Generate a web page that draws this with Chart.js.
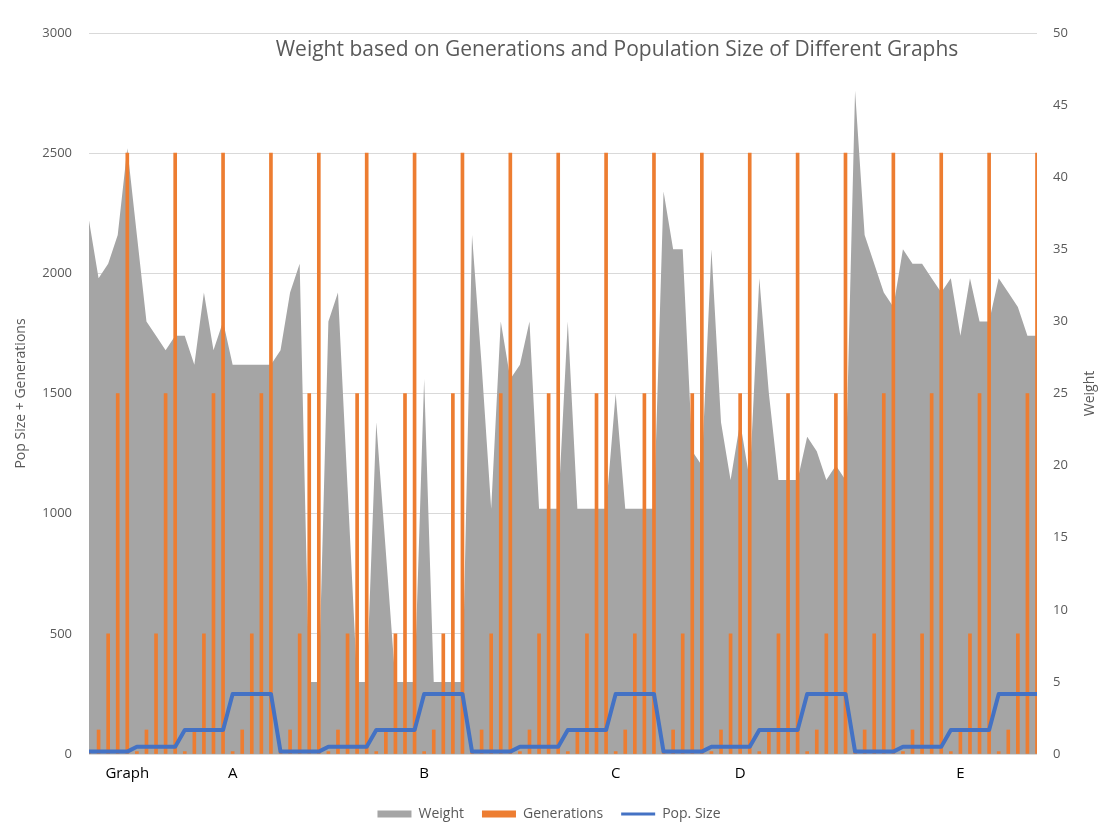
<!DOCTYPE html>
<html>
<head>
<meta charset="utf-8">
<script src="https://cdn.jsdelivr.net/npm/chart.js@4.4.1/dist/chart.umd.min.js"></script>
<style>
  html, body { margin: 0; padding: 0; background: #ffffff; }
  #wrap { position: relative; width: 1098px; height: 837px; }
</style>
</head>
<body>
<div id="wrap"><canvas id="chart"></canvas></div>
<script>
// Category labels: only a few categories carry a visible label
const labelIndices = [4, 15, 35, 55, 68, 91];
const labelTexts = ['Graph', 'A', 'B', 'C', 'D', 'E'];

// Weight (right axis)
const weights = [
  37, 33, 34, 36, 42, 36, 30, 29, 28, 29, 29, 27, 32, 28, 30, 27, 27, 27, 27, 27,
  28, 32, 34, 5, 5, 30, 32, 18.5, 5, 5, 23, 14, 5, 5, 5, 26, 5, 5, 5, 5,
  36, 27, 17, 30, 26, 27, 30, 17, 17, 17, 30, 17, 17, 17, 17, 25, 17, 17, 17, 17,
  39, 35, 35, 21, 20, 35, 23, 19, 23, 19, 33, 25, 19, 19, 19, 22, 21, 19, 20, 19,
  46, 36, 34, 32, 31, 35, 34, 34, 33, 32, 33, 29, 33, 30, 30, 33, 32, 31, 29, 29
];

// Generations (left axis)
const generations = [
  10, 100, 500, 1500, 2500, 10, 100, 500, 1500, 2500, 10, 100, 500, 1500, 2500, 10, 100, 500, 1500, 2500,
  10, 100, 500, 1500, 2500, 10, 100, 500, 1500, 2500, 10, 100, 500, 1500, 2500, 10, 100, 500, 1500, 2500,
  10, 100, 500, 1500, 2500, 10, 100, 500, 1500, 2500, 10, 100, 500, 1500, 2500, 10, 100, 500, 1500, 2500,
  10, 100, 500, 1500, 2500, 10, 100, 500, 1500, 2500, 10, 100, 500, 1500, 2500, 10, 100, 500, 1500, 2500,
  10, 100, 500, 1500, 2500, 10, 100, 500, 1500, 2500, 10, 100, 500, 1500, 2500, 10, 100, 500, 1500, 2500
];

// Population size (left axis)
const popSizes = [
  10, 10, 10, 10, 10, 30, 30, 30, 30, 30, 100, 100, 100, 100, 100, 250, 250, 250, 250, 250,
  10, 10, 10, 10, 10, 30, 30, 30, 30, 30, 100, 100, 100, 100, 100, 250, 250, 250, 250, 250,
  10, 10, 10, 10, 10, 30, 30, 30, 30, 30, 100, 100, 100, 100, 100, 250, 250, 250, 250, 250,
  10, 10, 10, 10, 10, 30, 30, 30, 30, 30, 100, 100, 100, 100, 100, 250, 250, 250, 250, 250,
  10, 10, 10, 10, 10, 30, 30, 30, 30, 30, 100, 100, 100, 100, 100, 250, 250, 250, 250, 250
];

const categories = weights.map(() => '');
labelIndices.forEach((idx, k) => { categories[idx] = labelTexts[k]; });

const TEXT = '#595959';
const FONT = "'Open Sans', 'Noto Sans', sans-serif";

// Chart heading and the right-hand axis caption, drawn on the canvas
const captions = {
  id: 'captions',
  afterDraw(chart) {
    const ctx = chart.ctx;
    ctx.save();
    ctx.fillStyle = TEXT;
    ctx.textAlign = 'center';
    ctx.textBaseline = 'middle';
    ctx.font = "21px " + FONT;
    ctx.fillText('Weight based on Generations and Population Size of Different Graphs', 617, 50);
    const area = chart.chartArea;
    ctx.translate(1090, (area.top + area.bottom) / 2);
    ctx.rotate(-Math.PI / 2);
    ctx.font = "14px " + FONT;
    ctx.fillText('Weight', 0, 0);
    ctx.restore();
  }
};

const legendStyles = ['rect', 'rect', 'line'];

new Chart(document.getElementById('chart'), {
  data: {
    labels: categories,
    datasets: [
      {
        type: 'line',
        label: 'Weight',
        data: weights,
        yAxisID: 'y1',
        fill: 'origin',
        backgroundColor: '#A5A5A5',
        borderColor: '#A5A5A5',
        borderWidth: 0,
        pointRadius: 0,
        tension: 0,
        order: 3
      },
      {
        type: 'bar',
        label: 'Generations',
        data: generations,
        yAxisID: 'y',
        backgroundColor: '#ED7D31',
        borderWidth: 0,
        barThickness: 3,
        order: 2
      },
      {
        type: 'line',
        label: 'Pop. Size',
        data: popSizes,
        yAxisID: 'y',
        borderColor: '#4472C4',
        backgroundColor: '#4472C4',
        borderWidth: 4,
        pointRadius: 0,
        tension: 0,
        fill: false,
        borderJoinStyle: 'round',
        order: 1
      }
    ]
  },
  options: {
    responsive: true,
    maintainAspectRatio: false,
    animation: false,
    layout: { padding: { top: 33, bottom: 6, left: 0, right: 0 } },
    plugins: {
      title: { display: false },
      tooltip: { enabled: false },
      legend: {
        position: 'bottom',
        labels: {
          usePointStyle: true,
          pointStyleWidth: 34,
          boxHeight: 7,
          padding: 18,
          color: TEXT,
          font: { family: FONT, size: 14 },
          generateLabels(chart) {
            const items = Chart.defaults.plugins.legend.labels.generateLabels(chart);
            items.sort((a, b) => a.datasetIndex - b.datasetIndex);
            items.forEach(it => {
              it.pointStyle = legendStyles[it.datasetIndex];
              it.lineWidth = it.pointStyle === 'line' ? 3 : 0;
            });
            return items;
          }
        }
      }
    },
    scales: {
      x: {
        type: 'category',
        offset: false,
        grid: { display: false },
        border: { display: false },
        ticks: {
          autoSkip: false,
          maxRotation: 0,
          minRotation: 0,
          padding: 3,
          color: '#000000',
          font: { family: FONT, size: 15 }
        },
        afterFit(scale) { scale.height = 35; }
      },
      y: {
        position: 'left',
        min: 0,
        max: 3000,
        ticks: {
          stepSize: 500,
          padding: 17,
          color: TEXT,
          font: { family: FONT, size: 13 },
          callback: (v) => String(v)
        },
        grid: { color: '#D9D9D9', drawTicks: false, lineWidth: 1 },
        border: { display: false },
        title: {
          display: true,
          text: 'Pop Size + Generations',
          color: TEXT,
          font: { family: FONT, size: 14 },
          padding: { top: 13, bottom: 0 }
        },
        afterFit(scale) { scale.width = 89; }
      },
      y1: {
        position: 'right',
        min: 0,
        max: 50,
        ticks: {
          stepSize: 5,
          padding: 16,
          color: TEXT,
          font: { family: FONT, size: 13 }
        },
        grid: { display: false, drawTicks: false },
        border: { display: false },
        afterFit(scale) { scale.width = 61; }
      }
    }
  },
  plugins: [captions]
});
</script>
</body>
</html>
